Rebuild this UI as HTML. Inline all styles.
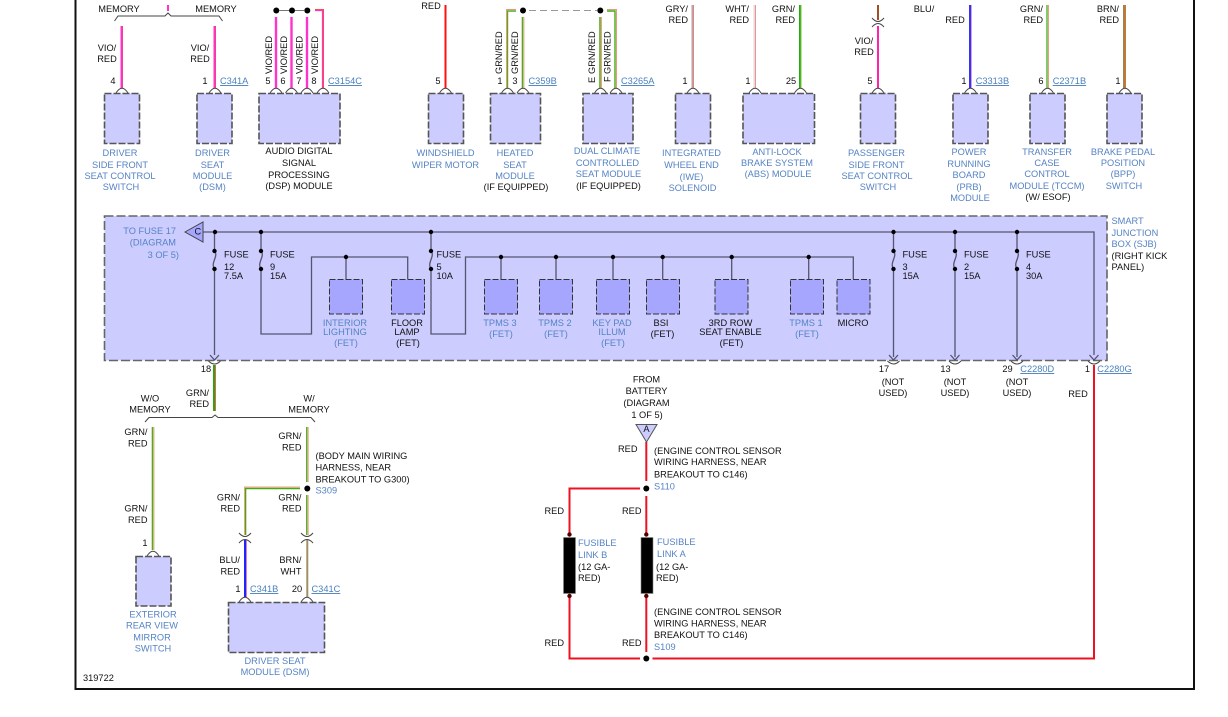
<!DOCTYPE html>
<html><head><meta charset="utf-8"><style>
html,body{margin:0;padding:0;background:#fff}
svg{display:block;font-family:"Liberation Sans",sans-serif;font-size:9.25px;fill:#111}
.b{fill:#5583c4}.u{fill:#4a80bd;text-decoration:underline}
.m text,text.m{text-anchor:middle}.e text,text.e{text-anchor:end}
.box{fill:#ccccff;stroke:#555;stroke-width:1.6;stroke-dasharray:7 2}
.sjb{fill:#ccccff;stroke:#666;stroke-width:1.6;stroke-dasharray:9 3}
.in{fill:#a6a6ff;stroke:#333;stroke-width:1;stroke-dasharray:6 2}
.g{fill:none;stroke:#555570;stroke-width:1.3}
.arc{fill:none;stroke:#444;stroke-width:1}
.dot{fill:#000}
.w{fill:none;stroke-width:1}
</style></head><body>
<svg xmlns="http://www.w3.org/2000/svg" width="1228" height="717" viewBox="0 0 1228 717">
<rect width="1228" height="717" fill="#fff"/>
<path d="M75.5 0V689H1194V0" fill="none" stroke="#111" stroke-width="2"/>

<!-- module boxes -->
<rect class="box" x="104.5" y="93.5" width="35" height="50"/>
<rect class="box" x="197" y="93.5" width="35" height="50"/>
<rect class="box" x="259" y="93.5" width="81" height="50"/>
<rect class="box" x="428.5" y="93.5" width="35" height="50"/>
<rect class="box" x="490.5" y="93.5" width="50" height="50"/>
<rect class="box" x="583" y="93.5" width="50" height="50"/>
<rect class="box" x="675.5" y="93.5" width="35" height="50"/>
<rect class="box" x="743" y="93.5" width="71.5" height="50"/>
<rect class="box" x="860.5" y="93.5" width="35" height="50"/>
<rect class="box" x="953" y="93.5" width="35" height="50"/>
<rect class="box" x="1030" y="93.5" width="35" height="50"/>
<rect class="box" x="1107" y="93.5" width="35" height="50"/>

<!-- top wires -->
<g class="w">
<path d="M121.5 26V88" stroke="#ff33cc" stroke-width="2"/><path d="M122.5 26V88" stroke="#f04090"/>
<path d="M214.5 26V88" stroke="#ff33cc" stroke-width="2"/><path d="M215.5 26V88" stroke="#f04090"/>
<path d="M168 5V11" stroke="#ff33cc" stroke-width="2"/>
<path d="M276 17V88M291.5 17V88M307 17V88" stroke="#ff33cc" stroke-width="2.4"/>
<path d="M315 10.5H322.5V88" stroke="#ff33cc" stroke-width="1.2"/><path d="M315 9.5H323.5V88" stroke="#f05050"/>
<path d="M445.5 5V88" stroke="#ff1010" stroke-width="2"/>
<path d="M516 11H507.5V88" stroke="#55aa22" stroke-width="1.4"/><path d="M516 9.5H506.5V88" stroke="#e89a80"/>
<path d="M522.5 17V88" stroke="#55aa22" stroke-width="1.6"/><path d="M524 17V88" stroke="#f0b0a0"/>
<path d="M600 17V88" stroke="#55aa22" stroke-width="1.6"/><path d="M601.5 17V88" stroke="#f0a080"/>
<path d="M607 11H615V88" stroke="#44aa11" stroke-width="1.4"/><path d="M607 9.5H616.5V88" stroke="#e89a80"/>
<path d="M692.5 5V88" stroke="#aaaaaa" stroke-width="2"/><path d="M693.5 5V88" stroke="#f08080"/>
<path d="M754.5 5V88" stroke="#dddddd" stroke-width="2"/><path d="M755.5 5V88" stroke="#f09090"/>
<path d="M800 5V88" stroke="#22aa11" stroke-width="2"/><path d="M801 5V88" stroke="#80c040"/>
<path d="M878 5V20" stroke="#a05020" stroke-width="2"/>
<path d="M878 26V88" stroke="#ff22aa" stroke-width="2"/>
<path d="M970 5V88" stroke="#3333ff" stroke-width="2"/><path d="M971.5 5V88" stroke="#e0a0c0"/>
<path d="M1047 5V88" stroke="#66bb44" stroke-width="1.6"/><path d="M1048.5 5V88" stroke="#e8a080"/>
<path d="M1124 5V88" stroke="#886622" stroke-width="1.6"/><path d="M1125.5 5V88" stroke="#e07030"/>
</g>
<circle class="dot" cx="276.3" cy="10.5" r="3"/><circle class="dot" cx="292" cy="10.5" r="3"/><circle class="dot" cx="307.3" cy="10.5" r="3"/>
<path d="M279 10.5H289M295 10.5H304" stroke="#777" fill="none"/>
<circle class="dot" cx="523" cy="10.5" r="3"/><circle class="dot" cx="600.3" cy="10.5" r="3"/>
<path d="M529 10.5H597" stroke="#999" stroke-dasharray="7 4" fill="none"/>

<!-- memory bracket -->
<path class="arc" d="M114.5 21L118 16H165L168 13L171 16H219L222.5 21" stroke="#666"/>
<path class="arc" d="M872 18Q878 25 884 18M872 27Q878 20 884 27"/>

<!-- pin arcs -->
<path class="arc" d="M116 93Q122 83.500 128 93M209 93Q215 83.500 221 93M270 93Q276 83.500 282 93M285.500 93Q291.500 83.500 297.500 93M301 93Q307 83.500 313 93M317 93Q323 83.500 329 93M439.500 93Q445.500 83.500 451.500 93M501.500 93Q507.500 83.500 513.500 93M517 93Q523 83.500 529 93M594.500 93Q600.500 83.500 606.500 93M610 93Q616 83.500 622 93M687 93Q693 83.500 699 93M749 93Q755 83.500 761 93M794.500 93Q800.500 83.500 806.500 93M872 93Q878 83.500 884 93M964.500 93Q970.500 83.500 976.500 93M1041.500 93Q1047.500 83.500 1053.500 93M1119 93Q1125 83.500 1131 93"/>

<!-- top labels -->
<g class="m">
<text x="119" y="12">MEMORY</text><text x="216" y="12">MEMORY</text>
<text x="107" y="51">VIO/</text><text x="107" y="62">RED</text>
<text x="200" y="51">VIO/</text><text x="200" y="62">RED</text>
<text x="113" y="84">4</text><text x="205" y="84">1</text>
<text x="268" y="84">5</text><text x="283" y="84">6</text><text x="299" y="84">7</text><text x="314" y="84">8</text>
<text x="431" y="9">RED</text><text x="438" y="84">5</text>
<text x="500" y="84">1</text><text x="515" y="84">3</text>
<text x="864" y="44">VIO/</text><text x="864" y="55">RED</text><text x="870" y="84">5</text>
<text x="685" y="84">1</text><text x="748" y="84">1</text><text x="791" y="84">25</text>
<text x="924" y="12">BLU/</text><text x="955" y="23">RED</text>
<text x="964" y="84">1</text><text x="1041" y="84">6</text><text x="1118" y="84">1</text>
</g>
<g class="e">
<text x="688" y="12">GRY/</text><text x="688" y="23">RED</text>
<text x="749" y="12">WHT/</text><text x="749" y="23">RED</text>
<text x="795" y="12">GRN/</text><text x="795" y="23">RED</text>
<text x="1043" y="12">GRN/</text><text x="1043" y="23">RED</text>
<text x="1119" y="12">BRN/</text><text x="1119" y="23">RED</text>
</g>
<text transform="translate(272 74) rotate(-90)">VIO/RED</text>
<text transform="translate(287 74) rotate(-90)">VIO/RED</text>
<text transform="translate(302.700 74) rotate(-90)">VIO/RED</text>
<text transform="translate(318 74) rotate(-90)">VIO/RED</text>
<text transform="translate(502 74) rotate(-90)">GRN/RED</text>
<text transform="translate(518 74) rotate(-90)">GRN/RED</text>
<text transform="translate(595 74) rotate(-90)">GRN/RED</text>
<text transform="translate(610.300 74) rotate(-90)">GRN/RED</text>
<text transform="translate(595 83) rotate(-90)">E</text>
<text transform="translate(610.300 82) rotate(-90)">F</text>
<text class="u" x="220" y="84">C341A</text>
<text class="u" x="328" y="84">C3154C</text>
<text class="u" x="528.500" y="84">C359B</text>
<text class="u" x="621" y="84">C3265A</text>
<text class="u" x="975.700" y="84">C3313B</text>
<text class="u" x="1052.700" y="84">C2371B</text>

<!-- module names -->
<g class="m b">
<text class="b" x="120" y="156">DRIVER</text><text class="b" x="120" y="168">SIDE FRONT</text><text class="b" x="120" y="179">SEAT CONTROL</text><text class="b" x="121" y="190">SWITCH</text>
<text class="b" x="212.500" y="156">DRIVER</text><text class="b" x="212.500" y="168">SEAT</text><text class="b" x="212.500" y="179">MODULE</text><text class="b" x="212.500" y="190">(DSM)</text>
<text class="b" x="445.500" y="156">WINDSHIELD</text><text class="b" x="445.500" y="168">WIPER MOTOR</text>
<text class="b" x="515" y="156">HEATED</text><text class="b" x="515" y="168">SEAT</text><text class="b" x="515" y="179">MODULE</text>
<text class="b" x="607" y="154">DUAL CLIMATE</text><text class="b" x="607.500" y="166">CONTROLLED</text><text class="b" x="608.500" y="177">SEAT MODULE</text>
<text class="b" x="691.500" y="156">INTEGRATED</text><text class="b" x="691.500" y="168">WHEEL END</text><text class="b" x="691.500" y="180">(IWE)</text><text class="b" x="692.500" y="191">SOLENOID</text>
<text class="b" x="777" y="155">ANTI-LOCK</text><text class="b" x="777" y="166">BRAKE SYSTEM</text><text class="b" x="778" y="177">(ABS) MODULE</text>
<text class="b" x="876.500" y="156">PASSENGER</text><text class="b" x="876.500" y="168">SIDE FRONT</text><text class="b" x="877" y="179">SEAT CONTROL</text><text class="b" x="878" y="190">SWITCH</text>
<text class="b" x="969" y="155">POWER</text><text class="b" x="969" y="167">RUNNING</text><text class="b" x="969" y="178">BOARD</text><text class="b" x="969" y="190">(PRB)</text><text class="b" x="970" y="201">MODULE</text>
<text class="b" x="1047" y="155">TRANSFER</text><text class="b" x="1047" y="166">CASE</text><text class="b" x="1047" y="177">CONTROL</text><text class="b" x="1047" y="189">MODULE (TCCM)</text>
<text class="b" x="1123" y="155">BRAKE PEDAL</text><text class="b" x="1123" y="166">POSITION</text><text class="b" x="1123" y="177">(BPP)</text><text class="b" x="1124" y="189">SWITCH</text>
</g>
<g class="m">
<text x="299" y="154">AUDIO DIGITAL</text><text x="299" y="166">SIGNAL</text><text x="299" y="178">PROCESSING</text><text x="299" y="189">(DSP) MODULE</text>
<text x="516" y="190">(IF EQUIPPED)</text><text x="608.500" y="189">(IF EQUIPPED)</text>
<text x="1048" y="200">(W/ ESOF)</text>
</g>

<!-- SJB -->
<rect class="sjb" x="104.500" y="216" width="1002.500" height="144.500"/>
<g class="g">
<path d="M203 232H1094V355"/>
<path d="M214.500 232V250M214.500 270V355M261 232V250M261 270V334H311.500V257H407.700V279M346 257V279"/>
<path d="M431 232V250M431 270V334H465.500V257H853.300V279M501 257V279M556 257V279M613 257V279M662.700 257V279M731.700 257V279M808.700 257V279"/>
<path d="M893.500 232V250M893.500 270V357M955 232V250M955 270V357M1017 232V250M1017 270V357"/>
<path d="M214.500 251C219 256 210 263 214.500 269M261 251C265.500 256 256.500 263 261 269M431 251C435.500 256 426.500 263 431 269M893.500 251C898 256 889 263 893.500 269M955 251C959.500 256 950.500 263 955 269M1017 251C1021.500 256 1012.500 263 1017 269"/>
<path d="M210 355L214.500 360L219 355M889 355L893.500 360L898 355M950.500 355L955 360L959.500 355M1012.500 355L1017 360L1021.500 355M1089.500 355L1094 360L1098.500 355"/>
</g>
<path d="M185 232L203 222V242Z" fill="#a6a6ff" stroke="#444"/>
<text x="194.500" y="234.500">C</text>
<g class="dot">
<circle cx="215" cy="232" r="2.200"/><circle cx="261" cy="232" r="2.200"/><circle cx="431" cy="232" r="2.200"/><circle cx="893.500" cy="232" r="2.200"/><circle cx="955" cy="232" r="2.200"/><circle cx="1017" cy="232" r="2.200"/>
<circle cx="214.500" cy="251" r="2.200"/><circle cx="214.500" cy="269" r="2.200"/><circle cx="261" cy="251" r="2.200"/><circle cx="261" cy="269" r="2.200"/><circle cx="431" cy="251" r="2.200"/><circle cx="431" cy="269" r="2.200"/><circle cx="893.500" cy="251" r="2.200"/><circle cx="893.500" cy="269" r="2.200"/><circle cx="955" cy="251" r="2.200"/><circle cx="955" cy="269" r="2.200"/><circle cx="1017" cy="251" r="2.200"/><circle cx="1017" cy="269" r="2.200"/>
<circle cx="346" cy="257" r="2.200"/><circle cx="501" cy="257" r="2.200"/><circle cx="556" cy="257" r="2.200"/><circle cx="613" cy="257" r="2.200"/><circle cx="662.700" cy="257" r="2.200"/><circle cx="731.700" cy="257" r="2.200"/><circle cx="808.700" cy="257" r="2.200"/>
</g>
<rect class="in" x="329.500" y="279.500" width="33" height="34.500"/><rect class="in" x="391.500" y="279.500" width="33" height="34.500"/>
<rect class="in" x="484.500" y="279.500" width="33" height="34.500"/><rect class="in" x="539.500" y="279.500" width="33" height="34.500"/><rect class="in" x="596.500" y="279.500" width="33" height="34.500"/><rect class="in" x="646.500" y="279.500" width="33" height="34.500"/><rect class="in" x="715" y="279.500" width="33" height="34.500"/><rect class="in" x="790.500" y="279.500" width="33" height="34.500"/><rect class="in" x="837" y="279.500" width="33" height="34.500"/>

<path class="arc" d="M208.500 361Q214.500 367 220.500 361M887.500 361Q893.500 367 899.500 361M949 361Q955 367 961 361M1011 361Q1017 367 1023 361M1088 361Q1094 367 1100 361"/>

<g class="e"><text class="b" x="176" y="234">TO FUSE 17</text><text class="b" x="176" y="245.500">(DIAGRAM</text><text class="b" x="179" y="258">3 OF 5)</text></g>
<text x="224" y="257.500">FUSE</text><text x="224" y="270">12</text><text x="224" y="279">7.5A</text>
<text x="270" y="257.500">FUSE</text><text x="270" y="270">9</text><text x="270" y="279">15A</text>
<text x="436.500" y="257.500">FUSE</text><text x="436.500" y="270">5</text><text x="436.500" y="279">10A</text>
<text x="902.500" y="257.500">FUSE</text><text x="902.500" y="270">3</text><text x="902.500" y="279">15A</text>
<text x="964" y="257.500">FUSE</text><text x="964" y="270">2</text><text x="964" y="279">15A</text>
<text x="1026" y="257.500">FUSE</text><text x="1026" y="270">4</text><text x="1026" y="279">30A</text>
<g class="m">
<text class="b" x="345" y="326">INTERIOR</text><text class="b" x="345" y="335">LIGHTING</text><text class="b" x="346" y="346">(FET)</text>
<text x="407" y="326">FLOOR</text><text x="407" y="335">LAMP</text><text x="408" y="346">(FET)</text>
<text class="b" x="500" y="326">TPMS 3</text><text class="b" x="501" y="337">(FET)</text>
<text class="b" x="555" y="326">TPMS 2</text><text class="b" x="556" y="337">(FET)</text>
<text class="b" x="612" y="326">KEY PAD</text><text class="b" x="612" y="335">ILLUM</text><text class="b" x="613" y="346">(FET)</text>
<text x="661" y="326">BSI</text><text x="662.500" y="337">(FET)</text>
<text x="730.500" y="326">3RD ROW</text><text x="730.500" y="335">SEAT ENABLE</text><text x="731.500" y="346">(FET)</text>
<text class="b" x="806" y="326">TPMS 1</text><text class="b" x="807" y="337">(FET)</text>
<text x="853" y="326">MICRO</text>
</g>
<text class="b" x="1111.500" y="224">SMART</text><text class="b" x="1111.500" y="236">JUNCTION</text><text class="b" x="1111.500" y="247">BOX (SJB)</text>
<text x="1111.500" y="259">(RIGHT KICK</text><text x="1111.500" y="270">PANEL)</text>
<g class="m">
<text x="884" y="372">17</text><text x="893" y="385">(NOT</text><text x="893" y="396">USED)</text>
<text x="945.500" y="372">13</text><text x="955" y="385">(NOT</text><text x="955" y="396">USED)</text>
<text x="1007.500" y="372">29</text><text x="1017" y="385">(NOT</text><text x="1017" y="396">USED)</text>
<text x="1087.500" y="372">1</text><text x="1078" y="397">RED</text>
<text x="206" y="372">18</text>
</g>
<text class="u" x="1020.300" y="372">C2280D</text><text class="u" x="1097.300" y="372">C2280G</text>

<!-- lower left -->
<g class="w">
<path d="M214 365V411" stroke="#22aa11" stroke-width="2"/><path d="M215.500 365V411" stroke="#f06050"/>
<path d="M152.500 427V550" stroke="#55aa22" stroke-width="1.6"/><path d="M154 427V550" stroke="#f0b090"/>
<path d="M306.800 427V482M306.800 495V535" stroke="#66aa33" stroke-width="1.6"/><path d="M308.300 427V482M308.300 495V535" stroke="#f0b090"/>
<path d="M300 488.500H245.500V535" stroke="#44aa11" stroke-width="1.6"/><path d="M300 487H244.500V535" stroke="#f0a080"/>
<path d="M245 540V597" stroke="#2222ff" stroke-width="2"/><path d="M246.500 540V597" stroke="#e080b0"/>
<path d="M307.300 540V597" stroke="#a09060" stroke-width="2"/>
</g>
<path class="arc" d="M145 422L149 417.500H212L215 415L218 417.500H311L315 422" stroke="#666"/>
<circle class="dot" cx="307.300" cy="488.500" r="3"/>
<path class="arc" d="M239 533Q245 540 251 533M239 543Q245 536 251 543M301 533Q307 540 313 533M301 543Q307 536 313 543"/>
<path class="arc" d="M147 556Q153 546.500 159 556M239 602Q245 592.500 251 602M301 602Q307 592.500 313 602"/>
<rect class="box" x="136" y="556.500" width="35" height="49.500"/>
<rect class="box" x="228.500" y="602.500" width="96" height="50"/>
<g class="m">
<text x="150" y="401.500">W/O</text><text x="150" y="412.500">MEMORY</text>
<text x="309" y="401.500">W/</text><text x="309" y="412.500">MEMORY</text>
<text x="145" y="546">1</text><text x="238" y="592">1</text><text x="297" y="592">20</text>
</g>
<g class="e">
<text x="209" y="396">GRN/</text><text x="209" y="407">RED</text>
<text x="147.500" y="435">GRN/</text><text x="147.500" y="446.500">RED</text>
<text x="147.500" y="511.500">GRN/</text><text x="147.500" y="523">RED</text>
<text x="301.500" y="439">GRN/</text><text x="301.500" y="450.500">RED</text>
<text x="301.500" y="500.500">GRN/</text><text x="301.500" y="511.500">RED</text>
<text x="240" y="500.500">GRN/</text><text x="240" y="511.500">RED</text>
<text x="240" y="563">BLU/</text><text x="240" y="574.500">RED</text>
<text x="301.500" y="563">BRN/</text><text x="301.500" y="574.500">WHT</text>
</g>
<text x="315.500" y="459">(BODY MAIN WIRING</text><text x="315.500" y="470.500">HARNESS, NEAR</text><text x="315.500" y="482.500">BREAKOUT TO G300)</text>
<text class="b" x="315.500" y="493.500">S309</text>
<text class="u" x="250" y="592">C341B</text><text class="u" x="311.500" y="592">C341C</text>
<g class="m">
<text class="b" x="153" y="617.500">EXTERIOR</text><text class="b" x="152" y="628.500">REAR VIEW</text><text class="b" x="152" y="640.500">MIRROR</text><text class="b" x="153" y="651.500">SWITCH</text>
<text class="b" x="275" y="664">DRIVER SEAT</text><text class="b" x="275" y="675">MODULE (DSM)</text>
</g>
<text x="83" y="681">319722</text>

<!-- lower centre -->
<g fill="none" stroke="#ee1122" stroke-width="2">
<path d="M646.300 442V481M646.300 496V534M640 488.500H569.500V534M569.500 596V658.500H640M646.300 596V652M652.500 658.500H1094V365"/>
</g>
<path d="M636 424.500H657L646.500 442Z" fill="#ccccff" stroke="#555"/>
<text class="m" x="646.500" y="432">A</text>
<circle class="dot" cx="646.300" cy="488.500" r="3"/><circle class="dot" cx="646.300" cy="658.500" r="3"/>
<rect x="563.500" y="537.500" width="12" height="56" fill="#000" stroke="#888" stroke-width=".6"/>
<rect x="641" y="537.500" width="12" height="56" fill="#000" stroke="#888" stroke-width=".6"/>
<circle cx="569.500" cy="534.500" r="2.200" fill="#500"/><circle cx="569.500" cy="596" r="2.200" fill="#500"/><circle cx="646.300" cy="534.500" r="2.200" fill="#500"/><circle cx="646.300" cy="596" r="2.200" fill="#500"/>
<g class="m"><text x="646.500" y="382.500">FROM</text><text x="646.500" y="394">BATTERY</text><text x="646.500" y="406">(DIAGRAM</text><text x="647" y="418">1 OF 5)</text></g>
<g class="e"><text x="637.500" y="452">RED</text><text x="564" y="514">RED</text><text x="641.500" y="514">RED</text><text x="564" y="646">RED</text><text x="641.500" y="646">RED</text></g>
<text x="654" y="454">(ENGINE CONTROL SENSOR</text><text x="654" y="465">WIRING HARNESS, NEAR</text><text x="654" y="477.500">BREAKOUT TO C146)</text><text class="b" x="654" y="489.500">S110</text>
<text x="654" y="615">(ENGINE CONTROL SENSOR</text><text x="654" y="626.500">WIRING HARNESS, NEAR</text><text x="654" y="638">BREAKOUT TO C146)</text><text class="b" x="654" y="650">S109</text>
<text class="b" x="578" y="546">FUSIBLE</text><text class="b" x="578" y="558">LINK B</text><text x="578" y="570">(12 GA-</text><text x="578" y="581">RED)</text>
<text class="b" x="657" y="545">FUSIBLE</text><text class="b" x="657" y="557">LINK A</text><text x="656" y="570">(12 GA-</text><text x="656" y="581">RED)</text>
</svg>
</body></html>
